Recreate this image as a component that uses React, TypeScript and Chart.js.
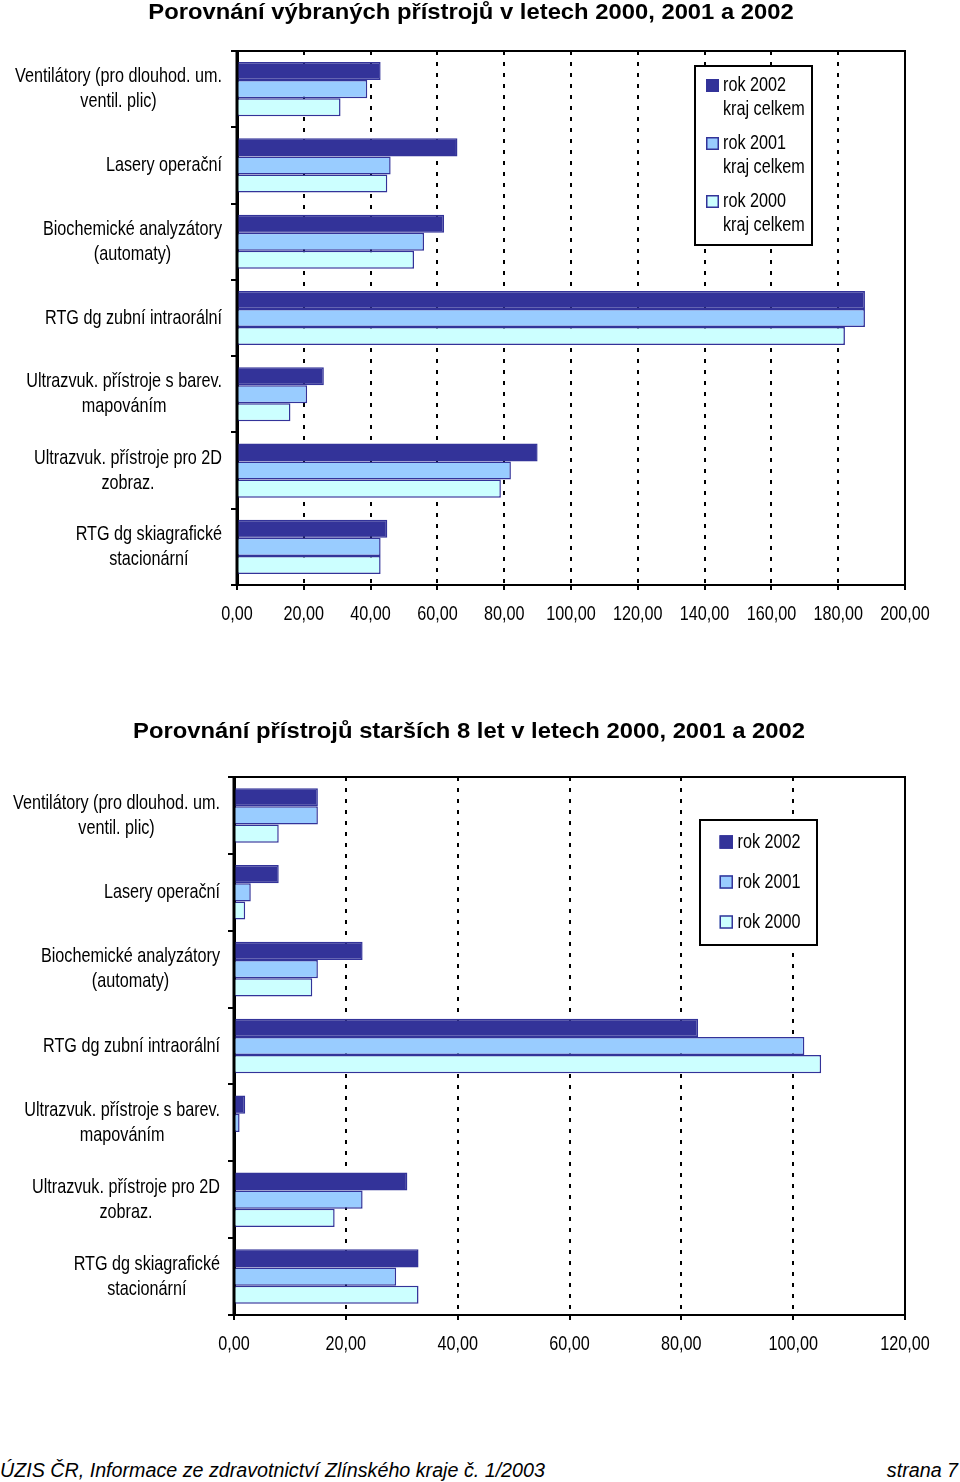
import React, { useEffect, useRef } from 'react';
import { Chart, registerables } from 'chart.js';

Chart.register(...registerables);

const FONT = "'Liberation Sans', Arial, Helvetica, sans-serif";

// ---- data ----
const categoryLabels: string[][] = [
  ['Ventilátory (pro dlouhod. um.', 'ventil. plic)'],
  ['Lasery operační'],
  ['Biochemické analyzátory', '(automaty)'],
  ['RTG dg zubní intraorální'],
  ['Ultrazvuk. přístroje s barev.', 'mapováním'],
  ['Ultrazvuk. přístroje pro 2D', 'zobraz.'],
  ['RTG dg skiagrafické', 'stacionární'],
];

const seriesNames = ['rok 2002', 'rok 2001', 'rok 2000'];
const legendSubLine = 'kraj celkem';

const title1 = 'Porovnání výbraných přístrojů v letech 2000, 2001 a 2002';
const chart1Values2002 = [43, 66, 62, 188, 26, 90, 45];
const chart1Values2001 = [39, 46, 56, 188, 21, 82, 43];
const chart1Values2000 = [31, 45, 53, 182, 16, 79, 43];
const chart1XMax = 200;

const title2 = 'Porovnání přístrojů starších 8 let v letech 2000, 2001 a 2002';
const chart2Values2002 = [15, 8, 23, 83, 2, 31, 33];
const chart2Values2001 = [15, 3, 15, 102, 1, 23, 29];
const chart2Values2000 = [8, 2, 14, 105, 0, 18, 33];
const chart2XMax = 120;

const xStep = 20;

const footerLeft = 'ÚZIS ČR, Informace ze zdravotnictví Zlínského kraje č. 1/2003';
const footerRight = 'strana 7';

// ---- styles ----
const FILLS = ['#333399', '#99CCFF', '#CCFFFF'];
const EDGE = '#333399';
const TXT = 16.2;
const STRETCH = 1.25;

type Spec = {
  top: number;
  height: number;
  area: { left: number; top: number; right: number; bottom: number };
  xMax: number;
  title: string;
  titleX: number;
  titleY: number;
  series: number[][];
  legendLines: string[][];
  legend: {
    x: number; y: number; w: number; h: number;
    sqX: number; sq: number; textX: number;
    firstY: number; gap: number; lineGap: number;
  };
  labelGap: number;
};

const spec1: Spec = {
  top: 0,
  height: 650,
  area: { left: 237, top: 51, right: 905, bottom: 585 },
  xMax: chart1XMax,
  title: title1,
  titleX: 471,
  titleY: 12.5,
  series: [chart1Values2002, chart1Values2001, chart1Values2000],
  legendLines: seriesNames.map((n) => [n, legendSubLine]),
  legend: { x: 695, y: 66, w: 117, h: 179, sqX: 706, sq: 13, textX: 723, firstY: 85.5, gap: 58, lineGap: 23.5 },
  labelGap: 15,
};

const spec2: Spec = {
  top: 660,
  height: 740,
  area: { left: 234, top: 117, right: 905, bottom: 655 },
  xMax: chart2XMax,
  title: title2,
  titleX: 469,
  titleY: 71.5,
  series: [chart2Values2002, chart2Values2001, chart2Values2000],
  legendLines: seriesNames.map((n) => [n]),
  legend: { x: 700, y: 160, w: 117, h: 125, sqX: 719.5, sq: 13.5, textX: 737.5, firstY: 182, gap: 40, lineGap: 23.5 },
  labelGap: 14,
};

function tallText(ctx: CanvasRenderingContext2D, text: string, x: number, y: number, align: CanvasTextAlign, sy = STRETCH) {
  ctx.save();
  ctx.translate(x, y);
  ctx.scale(1, sy);
  ctx.textAlign = align;
  ctx.textBaseline = 'middle';
  ctx.fillText(text, 0, 0);
  ctx.restore();
}

function makePlugin(spec: Spec) {
  return {
    id: 'customDecor',
    afterDatasetsDraw(chart: any) {
      const { ctx, chartArea: a } = chart;
      ctx.save();
      ctx.strokeStyle = '#000';
      ctx.lineWidth = 2;
      ctx.setLineDash([]);
      ctx.strokeRect(a.left, a.top, a.right - a.left, a.bottom - a.top);
      ctx.lineWidth = 3;
      ctx.beginPath();
      ctx.moveTo(a.left, a.top - 1);
      ctx.lineTo(a.left, a.bottom + 1);
      ctx.stroke();
      ctx.restore();
    },
    afterDraw(chart: any) {
      const { ctx, chartArea: a } = chart;
      ctx.save();
      ctx.fillStyle = '#000';

      // title
      ctx.font = `bold 23.8px ${FONT}`;
      tallText(ctx, spec.title, spec.titleX, spec.titleY, 'center', 0.93);

      ctx.font = `${TXT}px ${FONT}`;

      // x tick labels
      const xScale = chart.scales.x;
      xScale.ticks.forEach((t: any) => {
        const px = xScale.getPixelForValue(t.value);
        const label = Number(t.value).toFixed(2).replace('.', ',');
        tallText(ctx, label, px, a.bottom + 29.5, 'center');
      });

      // y category labels (lines centred on each other, block right-aligned)
      const yScale = chart.scales.y;
      const right = a.left - spec.labelGap;
      categoryLabels.forEach((lines, i) => {
        const cy = yScale.getPixelForTick(i);
        const maxW = Math.max(...lines.map((l) => ctx.measureText(l).width));
        const cx = right - maxW / 2;
        lines.forEach((l, j) => {
          const ly = cy + (j - (lines.length - 1) / 2) * 25;
          tallText(ctx, l, cx, ly, 'center');
        });
      });

      // legend
      const L = spec.legend;
      ctx.fillStyle = '#fff';
      ctx.fillRect(L.x, L.y, L.w, L.h);
      ctx.strokeStyle = '#000';
      ctx.lineWidth = 2;
      ctx.strokeRect(L.x, L.y, L.w, L.h);
      spec.legendLines.forEach((lines, k) => {
        const y0 = L.firstY + k * L.gap;
        ctx.fillStyle = FILLS[k];
        ctx.fillRect(L.sqX, y0 - L.sq / 2, L.sq, L.sq);
        ctx.strokeStyle = EDGE;
        ctx.lineWidth = 1.5;
        ctx.strokeRect(L.sqX + 0.75, y0 - L.sq / 2 + 0.75, L.sq - 1.5, L.sq - 1.5);
        ctx.fillStyle = '#000';
        lines.forEach((t, j) => {
          tallText(ctx, t, L.textX, y0 + j * L.lineGap, 'left');
        });
      });
      ctx.restore();
    },
  };
}

function BarPanel({ spec }: { spec: Spec }) {
  const ref = useRef<HTMLCanvasElement | null>(null);
  useEffect(() => {
    if (!ref.current) return;
    const chart = new Chart(ref.current, {
      type: 'bar',
      data: {
        labels: categoryLabels,
        datasets: spec.series.map((vals, k) => ({
          label: seriesNames[k],
          data: vals,
          backgroundColor: FILLS[k],
          borderColor: EDGE,
          borderWidth: 1.5,
          categoryPercentage: 0.71,
          barPercentage: 1.0,
        })),
      },
      options: {
        indexAxis: 'y',
        responsive: false,
        animation: false,
        events: [],
        layout: {
          padding: { left: 0, top: spec.area.top, right: 960 - spec.area.right, bottom: 0 },
        },
        plugins: {
          legend: { display: false },
          tooltip: { enabled: false },
          title: { display: false },
        },
        scales: {
          x: {
            type: 'linear',
            position: 'bottom',
            min: 0,
            max: spec.xMax,
            ticks: {
              stepSize: xStep,
              display: false,
            },
            grid: {
              color: '#000',
              lineWidth: 2,
              drawOnChartArea: true,
              drawTicks: true,
              tickLength: 5,
              tickColor: '#000',
              tickWidth: 2,
            },
            border: { display: false, dash: [4, 7] },
            afterFit: (s: any) => {
              s.height = spec.height - spec.area.bottom;
            },
          },
          y: {
            type: 'category',
            position: 'left',
            ticks: { display: false },
            grid: {
              offset: true,
              drawOnChartArea: false,
              drawTicks: true,
              tickLength: 6,
              color: '#000',
              lineWidth: 2,
            },
            border: { display: true, color: '#000', width: 3 },
            afterFit: (s: any) => {
              s.width = spec.area.left;
            },
          },
        },
      } as any,
      plugins: [makePlugin(spec)],
    });
    return () => chart.destroy();
  }, [spec]);
  return (
    <canvas
      ref={ref}
      width={960}
      height={spec.height}
      style={{ position: 'absolute', left: 0, top: spec.top, width: 960, height: spec.height, display: 'block' }}
    />
  );
}

export default function App() {
  const footStyle: React.CSSProperties = {
    position: 'absolute',
    top: 1458,
    fontFamily: FONT,
    fontStyle: 'italic',
    fontSize: '19.7px',
    lineHeight: '24px',
    whiteSpace: 'nowrap',
    color: '#000',
  };
  return (
    <div style={{ position: 'absolute', left: 0, top: 0, width: 960, height: 1482, background: '#fff', overflow: 'hidden' }}>
      <BarPanel spec={spec1} />
      <BarPanel spec={spec2} />
      <div style={{ ...footStyle, left: 0 }}>{footerLeft}</div>
      <div style={{ ...footStyle, right: 2 }}>{footerRight}</div>
    </div>
  );
}
